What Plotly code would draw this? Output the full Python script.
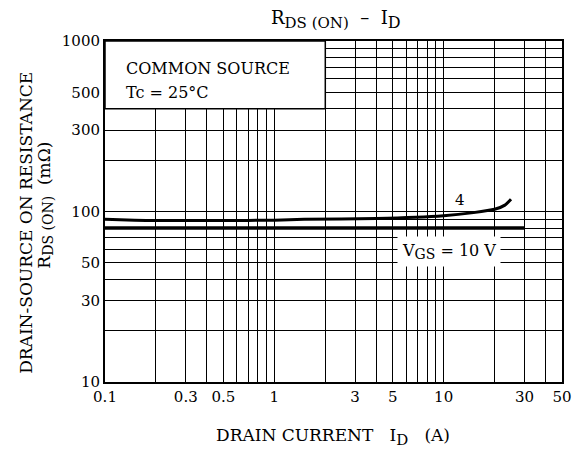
import math
import plotly.graph_objects as go

# Data
id_vgs4 = [0.1, 0.15, 0.2, 0.5, 1, 1.5, 4, 10, 15, 20, 23, 25]
r_vgs4 = [90, 89, 88.5, 88.5, 89, 90, 91, 94.5, 98.5, 103, 109, 118]
id_vgs10 = [0.1, 1, 10, 30]
r_vgs10 = [80, 80, 80, 80]

x_ticks = [0.1, 0.3, 0.5, 1, 3, 5, 10, 30, 50]
x_ticktext = ["0.1", "0.3", "0.5", "1", "3", "5", "10", "30", "50"]
y_ticks = [10, 30, 50, 100, 300, 500, 1000]
y_ticktext = ["10", "30", "50", "100", "300", "500", "1000"]
x_grid = [0.2, 0.3, 0.4, 0.5, 0.6, 0.7, 0.8, 0.9, 1, 2, 3, 4, 5, 6, 7, 8, 9, 10, 20, 30, 40]
y_grid = [20, 30, 40, 50, 60, 70, 80, 90, 100, 200, 300, 400, 500, 600, 700, 800, 900]

FONT = "DejaVu Serif"


def sub(txt, size):
    return '<sub><span style="font-size:%dpx">%s</span></sub>' % (size, txt)


fig = go.Figure()
fig.add_trace(go.Scatter(x=id_vgs4, y=r_vgs4, mode="lines",
                         line=dict(color="black", width=3, shape="spline", smoothing=0.6),
                         showlegend=False, hoverinfo="skip"))
fig.add_trace(go.Scatter(x=id_vgs10, y=r_vgs10, mode="lines",
                         line=dict(color="black", width=3.5),
                         showlegend=False, hoverinfo="skip"))

# legend box in the upper-left (data coordinates)
fig.add_shape(type="rect", xref="x", yref="y", x0=0.1, x1=2, y0=400, y1=1000,
              fillcolor="white", line=dict(color="black", width=1.5), layer="above")

fig.add_annotation(xref="x", yref="y", x=math.log10(0.13), y=math.log10(690),
                   text="COMMON SOURCE", showarrow=False, xanchor="left", yanchor="middle",
                   font=dict(family=FONT, size=16, color="black"))
fig.add_annotation(xref="x", yref="y", x=math.log10(0.13), y=math.log10(500),
                   text="Tc = 25°C", showarrow=False, xanchor="left", yanchor="middle",
                   font=dict(family=FONT, size=16, color="black"))
fig.add_annotation(xref="x", yref="y", x=math.log10(12.5), y=math.log10(117),
                   text="4", showarrow=False, xanchor="center", yanchor="middle",
                   font=dict(family=FONT, size=15, color="black"))
fig.add_annotation(xref="x", yref="y", x=math.log10(10.8), y=math.log10(58),
                   text="V" + sub("GS", 14) + " = 10 V", showarrow=False,
                   xanchor="center", yanchor="middle",
                   bgcolor="white", borderpad=4,
                   font=dict(family=FONT, size=16, color="black"))

axis_common = dict(type="log", showline=True, linecolor="black", linewidth=2, mirror=True,
                   showgrid=False, zeroline=False, ticks="",
                   tickfont=dict(family=FONT, size=15, color="black"))

fig.update_xaxes(**axis_common, range=[math.log10(0.1), math.log10(50)],
                 tickmode="array", tickvals=x_ticks, ticktext=x_ticktext,
                 minor=dict(tickmode="array", tickvals=x_grid, showgrid=True,
                            gridcolor="black", gridwidth=1, ticks=""))
fig.update_yaxes(**axis_common, range=[math.log10(10), math.log10(1000)],
                 tickmode="array", tickvals=y_ticks, ticktext=y_ticktext,
                 minor=dict(tickmode="array", tickvals=y_grid, showgrid=True,
                            gridcolor="black", gridwidth=1, ticks=""))

# axis titles
fig.add_annotation(xref="paper", yref="paper", x=0.499, y=-0.161,
                   text="DRAIN CURRENT   I" + sub("D", 15) + "   (A)", showarrow=False,
                   xanchor="center", yanchor="middle",
                   font=dict(family=FONT, size=17, color="black"))
fig.add_annotation(xref="paper", yref="paper", x=-0.172, y=0.468,
                   text="DRAIN-SOURCE ON RESISTANCE",
                   showarrow=False, textangle=-90, xanchor="center", yanchor="middle",
                   font=dict(family=FONT, size=17, color="black"))
fig.add_annotation(xref="paper", yref="paper", x=-0.131, y=0.5176,
                   text="R" + sub("DS (ON)", 14) + "  (mΩ)",
                   showarrow=False, textangle=-90, xanchor="center", yanchor="middle",
                   font=dict(family=FONT, size=17, color="black"))

fig.update_layout(
    width=584, height=450,
    margin=dict(l=105, r=17, t=41, b=68),
    paper_bgcolor="white", plot_bgcolor="white",
    title=dict(text="R" + sub("DS (ON)", 15) + "  –  I" + sub("D", 16), x=0.575, xanchor="center",
               y=1 - 18 / 450, yanchor="middle", yref="container",
               font=dict(family=FONT, size=18, color="black")),
)

fig.write_html("out.html")
